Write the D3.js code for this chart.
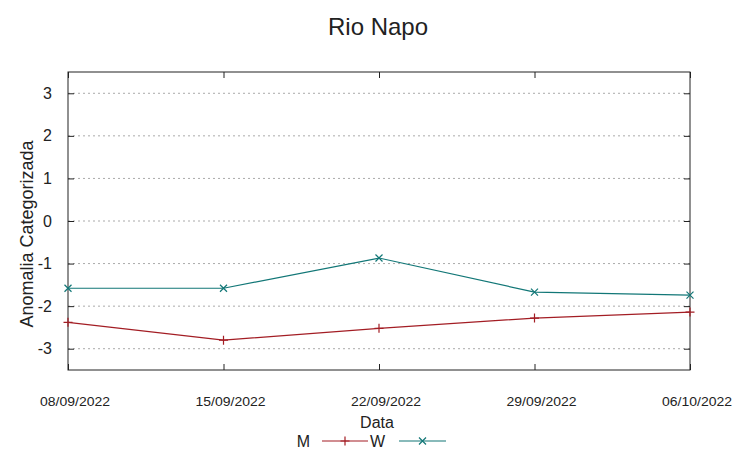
<!DOCTYPE html>
<html>
<head>
<meta charset="utf-8">
<script src="https://cdn.jsdelivr.net/npm/d3@7"></script>
<style>
  body { margin: 0; background: #fff; }
  svg { font-family: "Liberation Sans", Arial, sans-serif; }
</style>
</head>
<body>
<script>
const dates = ["08/09/2022", "15/09/2022", "22/09/2022", "29/09/2022", "06/10/2022"];
const mValues = [-2.38, -2.80, -2.52, -2.28, -2.14];
const wValues = [-1.58, -1.58, -0.87, -1.67, -1.74];
const yTicks = [-3, -2, -1, 0, 1, 2, 3];

const width = 752, height = 458;
const margin = { left: 68, right: 62, top: 72, bottom: 88 };
const parse = d3.timeParse("%d/%m/%Y");

const svg = d3.select("body").append("svg")
    .attr("width", width)
    .attr("height", height);

const x = d3.scaleTime()
    .domain([parse(dates[0]), parse(dates[dates.length - 1])])
    .range([margin.left, width - margin.right]);

const y = d3.scaleLinear()
    .domain([-3.5, 3.5])
    .range([height - margin.bottom, margin.top]);

// grid lines
svg.append("g")
    .selectAll("line")
    .data(yTicks)
    .enter()
    .append("line")
    .attr("x1", margin.left)
    .attr("x2", width - margin.right)
    .attr("y1", d => y(d))
    .attr("y2", d => y(d))
    .attr("stroke", "#aaa")
    .attr("stroke-width", 1)
    .attr("stroke-dasharray", "2,3");

// y axis left and right (ticks inward)
const yAxisL = d3.axisLeft(y).tickValues(yTicks).tickSize(-6).tickPadding(16)
    .tickFormat(d => String(d));
const gyl = svg.append("g")
    .attr("transform", `translate(${margin.left},0)`)
    .call(yAxisL);
gyl.select(".domain").remove();
gyl.selectAll("text").style("font-size", "16px").attr("fill", "#222");

const gyr = svg.append("g")
    .attr("transform", `translate(${width - margin.right},0)`)
    .call(d3.axisRight(y).tickValues(yTicks).tickSize(-6).tickFormat(""));
gyr.select(".domain").remove();

// x axis bottom and top (ticks inward)
const xTickVals = dates.map(parse);
const gxb = svg.append("g")
    .attr("transform", `translate(0,${height - margin.bottom})`)
    .call(d3.axisBottom(x).tickValues(xTickVals).tickSize(-6).tickFormat(""));
gxb.select(".domain").remove();

const gxt = svg.append("g")
    .attr("transform", `translate(0,${margin.top})`)
    .call(d3.axisTop(x).tickValues(xTickVals).tickSize(-6).tickFormat(""));
gxt.select(".domain").remove();

svg.selectAll(".tick line").attr("stroke", "#222");

// date labels
svg.append("g")
    .selectAll("text")
    .data(dates)
    .enter()
    .append("text")
    .attr("x", d => x(parse(d)) + 7)
    .attr("y", 406)
    .attr("text-anchor", "middle")
    .style("font-size", "13px")
    .attr("textLength", 70)
    .attr("lengthAdjust", "spacingAndGlyphs")
    .attr("fill", "#222")
    .text(d => d);

// border
svg.append("rect")
    .attr("x", margin.left)
    .attr("y", margin.top)
    .attr("width", width - margin.left - margin.right)
    .attr("height", height - margin.top - margin.bottom)
    .attr("fill", "none")
    .attr("stroke", "#222")
    .attr("stroke-width", 1);

const mColor = "#a31d24";
const wColor = "#127777";

const line = d3.line()
    .x((d, i) => x(parse(dates[i])))
    .y(d => y(d));

svg.append("path")
    .datum(mValues)
    .attr("d", line)
    .attr("fill", "none")
    .attr("stroke", mColor)
    .attr("stroke-width", 1.2);

svg.append("path")
    .datum(wValues)
    .attr("d", line)
    .attr("fill", "none")
    .attr("stroke", wColor)
    .attr("stroke-width", 1.2);

function plusPath(cx, cy, s) {
    return `M${cx - s},${cy}H${cx + s}M${cx},${cy - s}V${cy + s}`;
}
function crossPath(cx, cy, s) {
    return `M${cx - s},${cy - s}L${cx + s},${cy + s}M${cx - s},${cy + s}L${cx + s},${cy - s}`;
}

svg.append("g")
    .selectAll("path")
    .data(mValues)
    .enter()
    .append("path")
    .attr("d", (d, i) => plusPath(x(parse(dates[i])), y(d), 4.5))
    .attr("stroke", mColor)
    .attr("stroke-width", 1.2);

svg.append("g")
    .selectAll("path")
    .data(wValues)
    .enter()
    .append("path")
    .attr("d", (d, i) => crossPath(x(parse(dates[i])), y(d), 3.5))
    .attr("stroke", wColor)
    .attr("stroke-width", 1.2);

// title
svg.append("text")
    .attr("x", 378)
    .attr("y", 35)
    .attr("text-anchor", "middle")
    .style("font-size", "24px")
    .attr("fill", "#222")
    .text("Rio Napo");

// y label
svg.append("text")
    .attr("transform", `translate(33,234) rotate(-90)`)
    .attr("text-anchor", "middle")
    .style("font-size", "18px")
    .attr("fill", "#222")
    .text("Anomalia Categorizada");

// x label
svg.append("text")
    .attr("x", 377)
    .attr("y", 428)
    .attr("text-anchor", "middle")
    .style("font-size", "16px")
    .attr("fill", "#222")
    .text("Data");

// legend
const legend = [
    { name: "M", color: mColor, tx: 310, x1: 322, x2: 368, mark: plusPath },
    { name: "W", color: wColor, tx: 385, x1: 399, x2: 446, mark: crossPath }
];
const ly = 441;
legend.forEach(l => {
    svg.append("text")
        .attr("x", l.tx)
        .attr("y", ly + 6)
        .attr("text-anchor", "end")
        .style("font-size", "16px")
        .attr("fill", "#222")
        .text(l.name);
    svg.append("line")
        .attr("x1", l.x1).attr("x2", l.x2)
        .attr("y1", ly).attr("y2", ly)
        .attr("stroke", l.color)
        .attr("stroke-width", 1.2);
    svg.append("path")
        .attr("d", l.mark((l.x1 + l.x2) / 2, ly, l.mark === plusPath ? 4.5 : 3.5))
        .attr("stroke", l.color)
        .attr("stroke-width", 1.2);
});
</script>
</body>
</html>
